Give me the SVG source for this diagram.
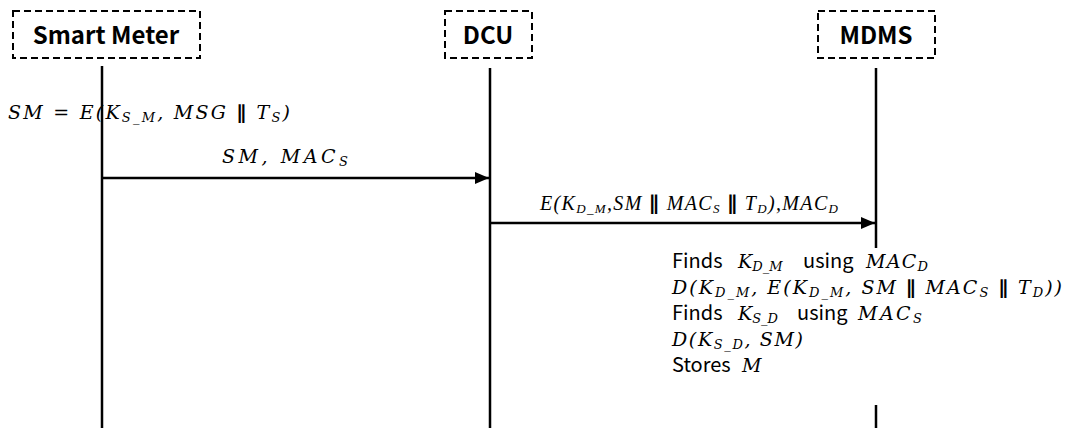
<svg xmlns="http://www.w3.org/2000/svg" width="1067" height="428" viewBox="0 0 1067 428">
<style>
.box{fill:#fff;stroke:#000;stroke-width:2;stroke-dasharray:7 4}
.hdr{font-family:"Noto Sans CJK KR","Noto Sans",sans-serif;font-weight:bold;font-size:24px;fill:#000;text-anchor:middle}
.life{stroke:#000;stroke-width:2.5;fill:none}
.msg{stroke:#000;stroke-width:2.5;fill:none}
.m{font-family:"DejaVu Serif",serif;font-style:italic;font-size:19px;fill:#000}
.n{font-family:"Noto Sans CJK KR","Noto Sans",sans-serif;font-style:normal;font-size:20px;fill:#000}
.t{font-family:"Liberation Serif",serif;font-style:italic;font-size:20px;fill:#000}
.p{font-family:"DejaVu Sans",sans-serif;font-style:normal;font-weight:bold}
.s{font-size:13px}
</style>
<defs>
<marker id="ah" viewBox="0 0 14 12" refX="14" refY="6" markerWidth="14" markerHeight="12" markerUnits="userSpaceOnUse" orient="auto">
<path d="M0,0 L14,6 L0,12 z" fill="#000"/>
</marker>
</defs>
<g id="lifelines">
<line class="life" x1="102" y1="66" x2="102" y2="428"/>
<line class="life" x1="490" y1="68" x2="490" y2="428"/>
<line class="life" x1="876" y1="68" x2="876" y2="248"/>
<line class="life" x1="876" y1="405" x2="876" y2="428"/>
</g>
<g id="node-smart-meter">
<rect class="box" x="13" y="11" width="187" height="47"/>
<text class="hdr" x="106" y="44">Smart Meter</text>
</g>
<g id="node-dcu">
<rect class="box" x="445" y="11" width="87" height="47"/>
<text class="hdr" x="488" y="44">DCU</text>
</g>
<g id="node-mdms">
<rect class="box" x="818" y="11" width="117" height="47"/>
<text class="hdr" x="876" y="44">MDMS</text>
</g>
<g id="connectors">
<line class="msg" x1="102" y1="178" x2="489" y2="178" marker-end="url(#ah)"/>
<line class="msg" x1="490" y1="223" x2="875" y2="223" marker-end="url(#ah)"/>
</g>
<g id="labels">
<text class="m" x="8" y="119" textLength="282">SM = E(K<tspan class="s" dy="3">S_M</tspan><tspan dy="-3">,  MSG </tspan><tspan class="p">∥</tspan><tspan> T</tspan><tspan class="s" dy="3">S</tspan><tspan dy="-3">)</tspan></text>
<text class="m" x="222" y="163" textLength="126">SM,  MAC<tspan class="s" dy="3">S</tspan></text>
<text class="t" x="540" y="210" textLength="298">E(K<tspan class="s" dy="3">D_M</tspan><tspan dy="-3">,SM </tspan><tspan class="p">∥</tspan><tspan> MAC</tspan><tspan class="s" dy="3">S</tspan><tspan dy="-3"> </tspan><tspan class="p">∥</tspan><tspan> T</tspan><tspan class="s" dy="3">D</tspan><tspan dy="-3">),MAC</tspan><tspan class="s" dy="3">D</tspan></text>
</g>
<g id="mdms-steps">
<text class="n" x="672" y="268">Finds</text>
<text class="m" x="738" y="268">K<tspan class="s" dy="3">D_M</tspan></text>
<text class="n" x="803" y="268">using</text>
<text class="m" x="866" y="268" textLength="62">MAC<tspan class="s" dy="3">D</tspan></text>
<text class="m" x="672" y="294" textLength="390">D(K<tspan class="s" dy="3">D_M</tspan><tspan dy="-3">, E(K</tspan><tspan class="s" dy="3">D_M</tspan><tspan dy="-3">,  SM </tspan><tspan class="p">∥</tspan><tspan> MAC</tspan><tspan class="s" dy="3">S</tspan><tspan dy="-3"> </tspan><tspan class="p">∥</tspan><tspan> T</tspan><tspan class="s" dy="3">D</tspan><tspan dy="-3">))</tspan></text>
<text class="n" x="672" y="320">Finds</text>
<text class="m" x="738" y="320">K<tspan class="s" dy="3">S_D</tspan></text>
<text class="n" x="797" y="320">using</text>
<text class="m" x="858" y="320" textLength="64">MAC<tspan class="s" dy="3">S</tspan></text>
<text class="m" x="672" y="346" textLength="131">D(K<tspan class="s" dy="3">S_D</tspan><tspan dy="-3">, SM)</tspan></text>
<text class="n" x="672" y="372">Stores</text>
<text class="m" x="742" y="372">M</text>
</g>
</svg>
